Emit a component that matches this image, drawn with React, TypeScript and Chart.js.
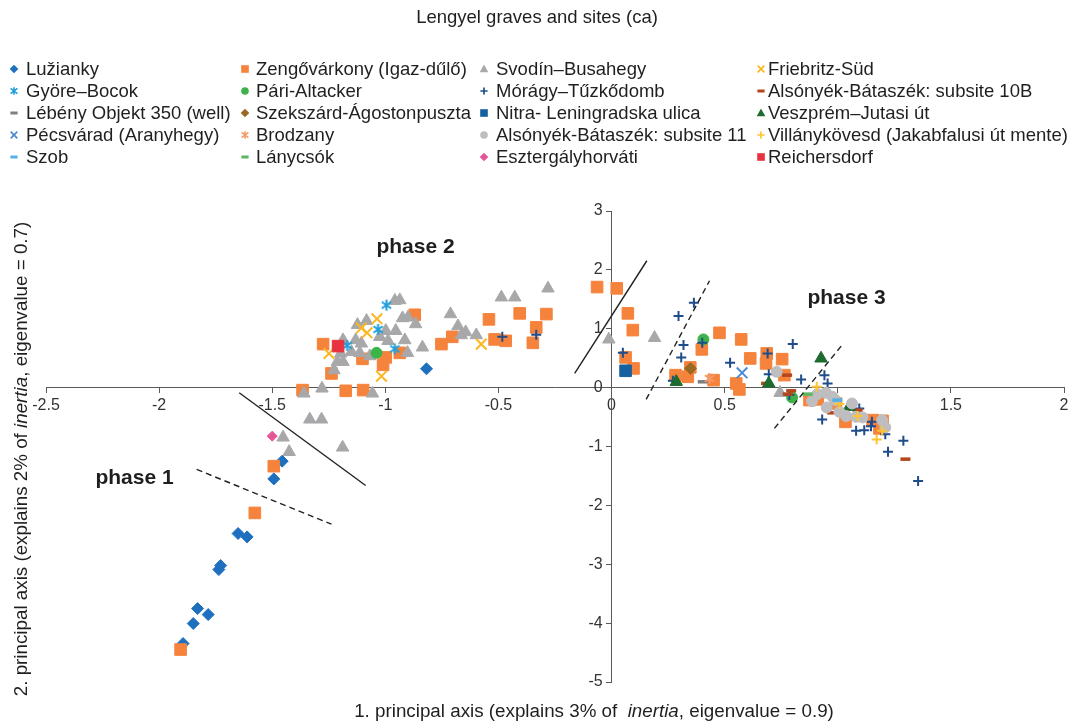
import React, { useEffect, useRef } from 'react';
import { Chart, registerables } from 'chart.js';

Chart.register(...registerables);

// ---------------- data ----------------
const titleText = 'Lengyel graves and sites (ca)';
const xTicks = [-2.5, -2, -1.5, -1, -0.5, 0, 0.5, 1, 1.5, 2];
const yTicks = [-5, -4, -3, -2, -1, 0, 1, 2, 3];

const luzianky = [[-0.818, 0.32], [-1.456, -1.249], [-1.493, -1.55], [-1.651, -2.478], [-1.611, -2.536], [-1.728, -3.022], [-1.736, -3.09], [-1.83, -3.753], [-1.783, -3.855], [-1.849, -4.007], [-1.894, -4.347]];
const zengovarkony = [[-0.064, 1.708], [0.023, 1.686], [0.072, 1.261], [0.094, 0.977], [0.062, 0.513], [0.097, 0.326], [-0.406, 1.261], [-0.288, 1.249], [-0.542, 1.159], [-0.333, 1.023], [-0.348, 0.761], [-0.517, 0.819], [-0.468, 0.795], [-0.752, 0.739], [-0.704, 0.863], [-0.87, 1.237], [-1.275, 0.739], [-1.238, 0.241], [-1.101, 0.489], [-1.01, 0.387], [-0.998, 0.513], [-0.936, 0.591], [-1.366, -0.042], [-1.175, -0.054], [-1.098, -0.042], [-1.493, -1.334], [-1.577, -2.128], [-1.905, -4.449], [0.477, 0.931], [0.573, 0.819], [0.399, 0.649], [0.613, 0.496], [0.686, 0.581], [0.683, 0.411], [0.754, 0.484], [0.764, 0.212], [0.348, 0.343], [0.337, 0.184], [0.283, 0.212], [0.451, 0.127], [0.551, 0.071], [0.565, -0.031], [0.875, -0.212], [0.911, -0.2], [1.034, -0.581], [1.154, -0.552], [1.198, -0.564], [1.184, -0.693], [0.992, -0.269]];
const svodin = [[-0.281, 1.686], [-0.487, 1.533], [-0.428, 1.533], [-0.958, 1.475], [-0.936, 1.487], [-0.924, 1.181], [-0.9, 1.193], [-0.866, 1.079], [-0.712, 1.249], [-0.679, 1.045], [-0.645, 0.943], [-0.664, 0.892], [-0.598, 0.892], [-0.836, 0.683], [-0.902, 0.591], [-0.914, 0.807], [-0.954, 0.965], [-0.988, 0.795], [-0.998, 0.965], [-1.025, 0.863], [-1.083, 1.135], [-1.123, 1.067], [-1.131, 0.807], [-1.106, 0.751], [-1.15, 0.608], [-1.113, 0.591], [-1.187, 0.807], [-1.197, 0.581], [-1.212, 0.438], [-1.187, 0.438], [-1.227, 0.297], [-1.069, 0.535], [-1.28, -0.014], [-1.36, -0.099], [-1.057, -0.099], [-1.334, -0.54], [-1.282, -0.54], [-1.452, -0.846], [-1.425, -1.091], [-1.189, -1.016], [-0.012, 0.819], [0.19, 0.846], [0.745, -0.088]];
const friebritz = [[-0.576, 0.739], [-1.037, 1.169], [-1.106, 1.011], [-1.081, 0.931], [-1.249, 0.581], [-1.017, 0.195]];
const gyore = [[-0.995, 1.402], [-1.032, 0.989], [-1.169, 0.717], [-0.958, 0.659]];
const pari = [[-1.039, 0.591], [0.406, 0.819], [0.798, -0.167]];
const moragy = [[-0.483, 0.863], [-0.333, 0.897], [0.05, 0.591], [0.364, 1.441], [0.296, 1.215], [0.318, 0.722], [0.308, 0.513], [0.401, 0.761], [0.524, 0.421], [0.69, 0.581], [0.695, 0.229], [0.801, 0.739], [0.838, 0.139], [0.941, 0.212], [0.955, 0.071], [0.271, 0.116], [0.786, -0.127], [0.931, -0.54], [1.081, -0.734], [1.117, -0.722], [1.147, -0.654], [1.151, -0.581], [1.095, -0.354], [1.21, -0.79], [1.29, -0.904], [1.222, -1.091], [1.355, -1.584]];
const alsonyek10B = [[0.776, 0.212], [0.683, 0.071], [0.794, -0.054], [0.779, -0.11], [1.088, -0.382], [0.975, -0.428], [1.299, -1.215]];
const lebeny = [[0.403, 0.099]];
const szekszard = [[0.349, 0.326]];
const nitra = [[0.062, 0.286]];
const veszprem = [[0.286, 0.099], [0.695, 0.071], [0.926, 0.496], [1.051, -0.326]];
const pecsvarad = [[0.577, 0.252]];
const brodzany = [[0.433, 0.156]];
const alsonyek11 = [[0.73, 0.269], [0.948, -0.088], [0.886, -0.229], [0.951, -0.337], [1.063, -0.269], [1.007, -0.411], [1.037, -0.484], [1.081, -0.496], [1.11, -0.506], [1.196, -0.552], [1.21, -0.676], [0.977, -0.156], [0.91, -0.11], [0.989, -0.212]];
const villanykovesd = [[0.907, 0.014], [1.007, -0.28], [1.088, -0.484], [1.196, -0.734], [1.172, -0.88]];
const szob = [[0.998, -0.212]];
const lanycsok = [[0.867, -0.11]];
const esztergaly = [[-1.5, -0.824]];
const reichersdorf = [[-1.209, 0.705]];

// phase boundary lines (annotation segments, in data units)
const boundarySolid1 = [[-1.646, -0.088], [-1.087, -1.662]];
const boundaryDash1 = [[-1.834, -1.39], [-1.238, -2.32]];
const boundarySolid2 = [[-0.163, 0.241], [0.156, 2.155]];
const boundaryDash2 = [[0.153, -0.2], [0.433, 1.815]];
const boundaryDash3 = [[0.72, -0.693], [1.015, 0.705]];

// ---------------- styles ----------------
type Shape = 'diamond' | 'square' | 'triangle' | 'x' | 'star' | 'circle' | 'plus' | 'dash';
interface SeriesDef { name: string; data: number[][]; color: string; shape: Shape; }

const SERIES: SeriesDef[] = [
  { name: 'Lužianky', data: luzianky, color: '#1F6FBF', shape: 'diamond' },
  { name: 'Zengővárkony (Igaz-dűlő)', data: zengovarkony, color: '#F5833C', shape: 'square' },
  { name: 'Svodín–Busahegy', data: svodin, color: '#A8A8AA', shape: 'triangle' },
  { name: 'Friebritz-Süd', data: friebritz, color: '#FDB620', shape: 'x' },
  { name: 'Györe–Bocok', data: gyore, color: '#1E9FDB', shape: 'star' },
  { name: 'Pári-Altacker', data: pari, color: '#3DB34A', shape: 'circle' },
  { name: 'Mórágy–Tűzkődomb', data: moragy, color: '#1F4C8A', shape: 'plus' },
  { name: 'Alsónyék-Bátaszék: subsite 10B', data: alsonyek10B, color: '#B4461B', shape: 'dash' },
  { name: 'Lébény Objekt 350 (well)', data: lebeny, color: '#7F7F7F', shape: 'dash' },
  { name: 'Szekszárd-Ágostonpuszta', data: szekszard, color: '#9A6A22', shape: 'diamond' },
  { name: 'Nitra- Leningradska ulica', data: nitra, color: '#1561A0', shape: 'square' },
  { name: 'Veszprém–Jutasi út', data: veszprem, color: '#1E6B30', shape: 'triangle' },
  { name: 'Pécsvárad (Aranyhegy)', data: pecsvarad, color: '#4C8AD6', shape: 'x' },
  { name: 'Brodzany', data: brodzany, color: '#F69A6A', shape: 'star' },
  { name: 'Alsónyék-Bátaszék: subsite 11', data: alsonyek11, color: '#BEBEC0', shape: 'circle' },
  { name: 'Villánykövesd (Jakabfalusi út mente)', data: villanykovesd, color: '#FFC433', shape: 'plus' },
  { name: 'Szob', data: szob, color: '#55B0E6', shape: 'dash' },
  { name: 'Lánycsók', data: lanycsok, color: '#5CB85F', shape: 'dash' },
  { name: 'Esztergályhorváti', data: esztergaly, color: '#E6559A', shape: 'diamond' },
  { name: 'Reichersdorf', data: reichersdorf, color: '#E8323F', shape: 'square' },
];

const FONT = '"Liberation Sans", Arial, Helvetica, sans-serif';
const TEXT = '#1f1f1f';
const AXIS = '#595959';

function makeStar(color: string, size: number, lw: number): HTMLCanvasElement {
  const c = document.createElement('canvas');
  c.width = size; c.height = size;
  const g = c.getContext('2d')!;
  g.strokeStyle = color; g.lineWidth = lw;
  const m = size / 2; const a = size / 2 - 1;
  g.beginPath();
  g.moveTo(m - a * 0.85, m - a * 0.6); g.lineTo(m + a * 0.85, m + a * 0.6);
  g.moveTo(m + a * 0.85, m - a * 0.6); g.lineTo(m - a * 0.85, m + a * 0.6);
  g.moveTo(m, m - a); g.lineTo(m, m + a);
  g.stroke();
  return c;
}

function pointProps(s: SeriesDef) {
  switch (s.shape) {
    case 'diamond': return { pointStyle: 'rectRot', pointRadius: s.name === 'Esztergályhorváti' ? 5 : 6, pointBorderWidth: 1 };
    case 'square': return { pointStyle: 'rect', pointRadius: 8.2, pointBorderWidth: 1 };
    case 'triangle': return { pointStyle: 'triangle', pointRadius: 7.2, pointBorderWidth: 1 };
    case 'x': return { pointStyle: 'crossRot', pointRadius: 7.5, pointBorderWidth: 2 };
    case 'star': return { pointStyle: makeStar(s.color, 13, 2), pointRadius: 7, pointBorderWidth: 1 };
    case 'circle': return { pointStyle: 'circle', pointRadius: 5.5, pointBorderWidth: 1 };
    case 'plus': return { pointStyle: 'cross', pointRadius: 5, pointBorderWidth: 2 };
    case 'dash': return { pointStyle: 'line', pointRadius: 5, pointBorderWidth: 3.5 };
  }
}

function drawMarker(ctx: CanvasRenderingContext2D, shape: Shape, color: string, cx: number, cy: number) {
  ctx.save();
  ctx.fillStyle = color; ctx.strokeStyle = color;
  ctx.beginPath();
  switch (shape) {
    case 'diamond':
      ctx.moveTo(cx, cy - 4.3); ctx.lineTo(cx + 4.3, cy); ctx.lineTo(cx, cy + 4.3); ctx.lineTo(cx - 4.3, cy); ctx.closePath(); ctx.fill(); break;
    case 'square':
      ctx.fillRect(cx - 3.8, cy - 3.8, 7.6, 7.6); break;
    case 'triangle':
      ctx.moveTo(cx, cy - 4.5); ctx.lineTo(cx + 4.3, cy + 3.2); ctx.lineTo(cx - 4.3, cy + 3.2); ctx.closePath(); ctx.fill(); break;
    case 'circle':
      ctx.arc(cx, cy, 3.8, 0, Math.PI * 2); ctx.fill(); break;
    case 'x':
      ctx.lineWidth = 1.7;
      ctx.moveTo(cx - 3.3, cy - 3.3); ctx.lineTo(cx + 3.3, cy + 3.3);
      ctx.moveTo(cx + 3.3, cy - 3.3); ctx.lineTo(cx - 3.3, cy + 3.3); ctx.stroke(); break;
    case 'star':
      ctx.lineWidth = 1.6;
      ctx.moveTo(cx - 3.4, cy - 2.6); ctx.lineTo(cx + 3.4, cy + 2.6);
      ctx.moveTo(cx + 3.4, cy - 2.6); ctx.lineTo(cx - 3.4, cy + 2.6);
      ctx.moveTo(cx, cy - 3.8); ctx.lineTo(cx, cy + 3.8); ctx.stroke(); break;
    case 'plus':
      ctx.lineWidth = 1.7;
      ctx.moveTo(cx - 3.6, cy); ctx.lineTo(cx + 3.6, cy);
      ctx.moveTo(cx, cy - 3.6); ctx.lineTo(cx, cy + 3.6); ctx.stroke(); break;
    case 'dash':
      ctx.lineWidth = 3;
      ctx.moveTo(cx - 3.6, cy); ctx.lineTo(cx + 3.6, cy); ctx.stroke(); break;
  }
  ctx.restore();
}

function drawMixed(ctx: CanvasRenderingContext2D, parts: { t: string; it?: boolean }[], cx: number, cy: number, size: number) {
  const fonts = parts.map((p) => `${p.it ? 'italic ' : ''}${size}px ${FONT}`);
  const widths = parts.map((p, i) => { ctx.font = fonts[i]; return ctx.measureText(p.t).width; });
  const total = widths.reduce((a, b) => a + b, 0);
  let x = cx - total / 2;
  ctx.textAlign = 'left';
  ctx.textBaseline = 'middle';
  parts.forEach((p, i) => { ctx.font = fonts[i]; ctx.fillText(p.t, x, cy); x += widths[i]; });
}

const overlayPlugin = {
  id: 'overlay',
  afterDraw(chart: any) {
    const ctx: CanvasRenderingContext2D = chart.ctx;
    ctx.save();
    ctx.fillStyle = TEXT;
    // title
    ctx.font = `18.5px ${FONT}`;
    ctx.textAlign = 'center';
    ctx.textBaseline = 'middle';
    ctx.fillText(titleText, 537, 18);
    // legend (4 columns)
    const markerX = [14, 245, 484, 761];
    const textX = [26, 256, 496, 768];
    const rowY = [69, 91, 113, 135, 157];
    SERIES.forEach((s, i) => {
      const col = i % 4; const row = Math.floor(i / 4);
      drawMarker(ctx, s.shape, s.color, markerX[col], rowY[row]);
      ctx.fillStyle = TEXT;
      ctx.font = `18.5px ${FONT}`;
      ctx.textAlign = 'left';
      ctx.textBaseline = 'middle';
      ctx.fillText(s.name, textX[col], rowY[row] + 1);
    });
    // phase labels
    ctx.font = `bold 21px ${FONT}`;
    ctx.textAlign = 'center';
    ctx.textBaseline = 'middle';
    ctx.fillStyle = TEXT;
    ctx.fillText('phase 1', 134.5, 478);
    ctx.fillText('phase 2', 415.5, 247);
    ctx.fillText('phase 3', 846.5, 298);
    // axis titles
    ctx.fillStyle = TEXT;
    drawMixed(ctx, [{ t: '1. principal axis (explains 3% of  ' }, { t: 'inertia', it: true }, { t: ', eigenvalue = 0.9)' }], 594, 712, 18.8);
    ctx.save();
    ctx.translate(22, 459);
    ctx.rotate(-Math.PI / 2);
    drawMixed(ctx, [{ t: '2. principal axis (explains 2% of ' }, { t: 'inertia', it: true }, { t: ', eigenvalue = 0.7)' }], 0, 0, 18.8);
    ctx.restore();
    ctx.restore();
  },
};

const toXY = (arr: number[][]) => arr.map(([x, y]) => ({ x, y }));

export default function App() {
  const ref = useRef<HTMLCanvasElement>(null);
  useEffect(() => {
    document.body.style.margin = '0';
    const canvas = ref.current!;
    const datasets: any[] = SERIES.map((s, i) => ({
      label: s.name,
      data: toXY(s.data),
      backgroundColor: s.color,
      borderColor: s.color,
      showLine: false,
      order: -i,
      ...pointProps(s),
    }));
    const lines = [
      { d: boundarySolid1, dash: [] },
      { d: boundaryDash1, dash: [6, 4] },
      { d: boundarySolid2, dash: [] },
      { d: boundaryDash2, dash: [6, 4] },
      { d: boundaryDash3, dash: [6, 4] },
    ];
    lines.forEach((l, i) => {
      datasets.push({
        label: 'boundary' + i,
        data: toXY(l.d),
        showLine: true,
        borderColor: '#222222',
        borderWidth: 1.4,
        borderDash: l.dash,
        pointRadius: 0,
        fill: false,
        order: -100,
      });
    });
    const chart = new Chart(canvas, {
      type: 'scatter',
      data: { datasets },
      plugins: [overlayPlugin as any],
      options: {
        responsive: false,
        animation: false,
        events: [],
        layout: { padding: { left: 46, right: 11, top: 211, bottom: 44 } },
        plugins: { legend: { display: false }, title: { display: false }, tooltip: { enabled: false } },
        scales: {
          x: {
            type: 'linear',
            position: { y: 0 } as any,
            min: -2.5,
            max: 2,
            afterBuildTicks: (s: any) => { s.ticks = xTicks.map((v) => ({ value: v })); },
            afterFit: (s: any) => { s.height = 0; },
            ticks: { autoSkip: false, maxRotation: 0, padding: 3, color: '#333', font: { family: FONT, size: 16 }, callback: (v: any) => String(v) },
            grid: { drawOnChartArea: false, drawTicks: true, tickLength: 5, color: AXIS },
            border: { display: true, color: AXIS, width: 1 },
          },
          y: {
            type: 'linear',
            position: { x: 0 } as any,
            min: -5,
            max: 3,
            afterBuildTicks: (s: any) => { s.ticks = yTicks.map((v) => ({ value: v })); },
            afterFit: (s: any) => { s.width = 0; },
            ticks: { autoSkip: false, padding: 3, color: '#333', font: { family: FONT, size: 16 }, callback: (v: any) => String(v) + '  ' },
            grid: { drawOnChartArea: false, drawTicks: true, tickLength: 5, color: AXIS },
            border: { display: true, color: AXIS, width: 1 },
          },
        },
      },
    });
    return () => chart.destroy();
  }, []);
  return (
    <div style={{ width: 1075, height: 726, position: 'relative', background: '#fff' }}>
      <canvas ref={ref} width={1075} height={726} style={{ display: 'block' }} />
    </div>
  );
}
